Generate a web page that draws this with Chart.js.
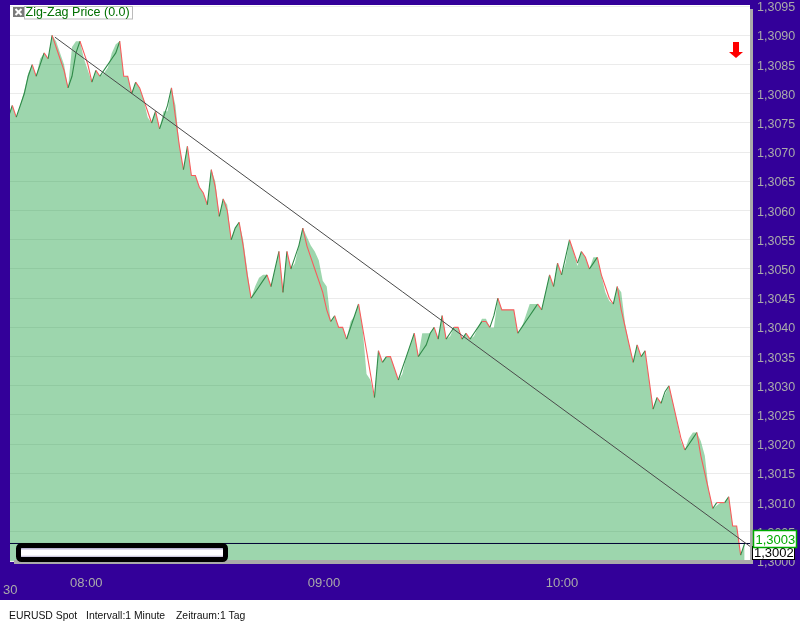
<!DOCTYPE html>
<html><head><meta charset="utf-8">
<style>html,body{margin:0;padding:0;background:#fff;overflow:hidden}canvas{display:block}</style>
<script src="https://cdn.jsdelivr.net/npm/chart.js@4"></script></head>
<body><canvas id="c" width="800" height="625"></canvas>
<script>
const linePrices=[1.3076,1.3078,1.3076,1.3078,1.3080,1.3083,1.3085,1.3083,1.3085,1.3087,1.3086,1.3090,1.3088,1.3086,1.3084,1.3081,1.3083,1.3087,1.3089,1.3087,1.3085,1.3082,1.3084,1.3083,1.3084,1.3085,1.3086,1.3087,1.3089,1.3083,1.3083,1.3080,1.3082,1.3081,1.3079,1.3077,1.3075,1.3077,1.3074,1.3076,1.3078,1.3081,1.3076,1.3071,1.3067,1.3071,1.3066,1.3066,1.3064,1.3063,1.3061,1.3067,1.3064,1.3059,1.3062,1.3060,1.3055,1.3057,1.3058,1.3054,1.3049,1.3045,1.3046,1.3047,1.3048,1.3049,1.3047,1.3050,1.3053,1.3046,1.3053,1.3050,1.3052,1.3054,1.3057,1.3054,1.3052,1.3050,1.3048,1.3046,1.3043,1.3041,1.3042,1.3040,1.3040,1.3038,1.3040,1.3042,1.3044,1.3040,1.3036,1.3032,1.3028,1.3036,1.3034,1.3035,1.3035,1.3033,1.3031,1.3033,1.3035,1.3037,1.3039,1.3035,1.3036,1.3037,1.3039,1.3040,1.3038,1.3042,1.3038,1.3039,1.3040,1.3040,1.3038,1.3039,1.3038,1.3039,1.3040,1.3041,1.3041,1.3040,1.3042,1.3045,1.3043,1.3043,1.3043,1.3043,1.3039,1.3040,1.3041,1.3042,1.3043,1.3044,1.3043,1.3046,1.3049,1.3047,1.3051,1.3049,1.3052,1.3055,1.3053,1.3051,1.3053,1.3052,1.3050,1.3051,1.3052,1.3049,1.3047,1.3045,1.3044,1.3047,1.3043,1.3040,1.3037,1.3034,1.3037,1.3035,1.3036,1.3031,1.3026,1.3028,1.3027,1.3029,1.3030,1.3027,1.3024,1.3021,1.3019,1.3020,1.3021,1.3022,1.3018,1.3015,1.3012,1.3009,1.3010,1.3010,1.3010,1.3011,1.3006,1.3006,1.3001,1.3003];
const areaPrices=[1.3076,1.3078,1.3076,1.3078,1.30805,1.30835,1.3085,1.3083,1.3086,1.3087,1.3086,1.3090,1.3089,1.3087,1.3085,1.3081,1.3088,1.3089,1.3089,1.3086,1.3084,1.3082,1.3084,1.3083,1.30835,1.30845,1.3087,1.30885,1.3089,1.3083,1.3083,1.3080,1.3082,1.3081,1.3079,1.3076,1.3075,1.3077,1.3074,1.3077,1.3077,1.3081,1.3078,1.3071,1.3067,1.3071,1.3066,1.3066,1.3064,1.3063,1.3061,1.3067,1.3065,1.3059,1.3062,1.3061,1.3055,1.3057,1.3058,1.3055,1.3050,1.3045,1.3047,1.30485,1.3049,1.3049,1.3047,1.3050,1.3053,1.3046,1.3053,1.3050,1.3051,1.3054,1.3057,1.30555,1.3054,1.3053,1.30515,1.3048,1.3047,1.3041,1.3042,1.3040,1.3040,1.3038,1.3041,1.3042,1.3044,1.3040,1.3032,1.3031,1.3028,1.3036,1.3034,1.3035,1.3035,1.3033,1.3031,1.3032,1.3035,1.3037,1.3039,1.3035,1.3039,1.3039,1.3039,1.3040,1.3038,1.3042,1.3038,1.30385,1.3040,1.3040,1.3038,1.3039,1.3038,1.30385,1.3040,1.30415,1.30415,1.3040,1.3040,1.3045,1.3043,1.3043,1.3043,1.3043,1.3039,1.3040,1.3042,1.3044,1.3044,1.3044,1.3043,1.3046,1.3049,1.3047,1.3051,1.3049,1.3051,1.3055,1.3053,1.30505,1.3053,1.3052,1.3050,1.3052,1.3052,1.3049,1.3046,1.30445,1.3044,1.3047,1.3046,1.30405,1.3037,1.3034,1.3037,1.3035,1.3036,1.3031,1.3026,1.3028,1.3027,1.30285,1.3030,1.3027,1.3024,1.30205,1.3019,1.3021,1.3022,1.3022,1.30205,1.3018,1.3012,1.3009,1.30095,1.3010,1.3010,1.3011,1.3006,1.3006,1.3001,1.3003];
const firstMinuteIndex=-1;
const yTickValues=[1.3000,1.3005,1.3010,1.3015,1.3020,1.3025,1.3030,1.3035,1.3040,1.3045,1.3050,1.3055,1.3060,1.3065,1.3070,1.3075,1.3080,1.3085,1.3090,1.3095];
const xTickValues=[18.6,78.3,138.1];
const xTickLabels=['08:00','09:00','10:00'];
const trendX=[10.7,185.35];
const trendY=[1.30897,1.30025];
const currentPrice=1.3003;
const crossPrice='1,3002';
const currentLabel='1,3003';

const toPts=a=>a.map((v,i)=>({x:i+firstMinuteIndex,y:v}));
const PURPLE='#330099';
const sans='"Liberation Sans",Arial,sans-serif';

function rr(c,x,y,w,h,r){c.beginPath();c.roundRect(x,y,w,h,r);}

const frame={id:'frame',
 beforeDraw(ch){const c=ch.ctx,a=ch.chartArea;c.save();
  c.fillStyle='#fff';c.fillRect(0,0,800,625);
  c.fillStyle=PURPLE;c.fillRect(0,0,800,600);
  c.fillStyle='#fff';c.fillRect(a.left,a.top,a.right-a.left,a.bottom-a.top);
  c.restore();},
 afterDraw(ch){const c=ch.ctx;c.save();
  // plot shadow
  c.fillStyle='#aaaaaa';c.fillRect(14,560,739,4);c.fillRect(750,9,3,555);
  // slider
  const g=c.createLinearGradient(0,548,0,558);
  g.addColorStop(0,'#a9a3c9');g.addColorStop(.25,'#ffffff');g.addColorStop(.7,'#ffffff');g.addColorStop(1,'#9a94bd');
  rr(c,18.5,545.5,207,14,3);c.fillStyle=g;c.fill();
  c.lineWidth=5;c.strokeStyle='#000';c.stroke();
  // legend
  c.fillStyle='#7a7a7a';c.fillRect(13,7,11,10);
  c.strokeStyle='#fff';c.lineWidth=2;c.beginPath();c.moveTo(15.5,9);c.lineTo(21.5,15);c.moveTo(21.5,9);c.lineTo(15.5,15);c.stroke();
  c.fillStyle='#fff';c.fillRect(24.5,6.5,108,12.5);
  c.strokeStyle='#bbbbbb';c.lineWidth=1;c.strokeRect(24.5,6.5,108,12.5);
  c.font='12.5px '+sans;c.fillStyle='#007000';c.textBaseline='middle';c.textAlign='left';
  c.fillText('Zig-Zag Price (0.0)',25.5,13);
  // arrow
  c.fillStyle='#ff0000';c.fillRect(733,42,6,10);
  c.beginPath();c.moveTo(729,52);c.lineTo(743,52);c.lineTo(736,58);c.closePath();c.fill();
  // price tags
  c.font='13px '+sans;
  c.fillStyle='#fff';c.fillRect(752.5,546.5,42,13);
  c.strokeStyle='#000';c.strokeRect(752.5,546.5,42,13);
  c.fillStyle='#000';c.fillText(crossPrice,754,553.5);
  c.fillStyle='#fff';c.fillRect(753.5,530.5,43,17);
  c.strokeStyle='#00aa00';c.lineWidth=1.5;c.strokeRect(753.5,530.5,43,17);
  c.fillStyle='#00aa00';c.fillText(currentLabel,755.5,540);
  // extra text
  c.font='13px '+sans;c.fillStyle='#aaaaaa';c.fillText('30',3,590.5);
  c.font='10.4px '+sans;c.fillStyle='#111';
  c.fillText('EURUSD Spot',9,616);
  c.fillText('Intervall:1 Minute',86,616);
  c.fillText('Zeitraum:1 Tag',176,616);
  c.restore();}
};

new Chart(document.getElementById('c'),{
 type:'line',
 data:{datasets:[
  {label:'trend',data:trendX.map((x,i)=>({x,y:trendY[i]})),borderColor:'#4a4a4a',borderWidth:1,pointRadius:0,order:1},
  {label:'current',data:[{x:-1,y:currentPrice},{x:186,y:currentPrice}],borderColor:'#000033',borderWidth:1,pointRadius:0,order:2},
  {label:'Zig-Zag Price',data:toPts(linePrices),borderWidth:1.1,pointRadius:0,order:3,tension:0,
   borderColor:'#ff5a5a',
   segment:{borderColor:s=>s.p1.parsed.y>s.p0.parsed.y?'#2f8a48':'#f75c5c'}},
  {label:'area',data:toPts(areaPrices),borderWidth:0,pointRadius:0,order:4,tension:0,fill:'start',backgroundColor:'rgba(10,152,50,0.4)'}
 ]},
 options:{responsive:false,animation:false,devicePixelRatio:1,
  layout:{padding:{left:10,top:5,right:0,bottom:0}},
  plugins:{legend:{display:false},tooltip:{enabled:false},title:{display:false}},
  scales:{
   x:{type:'linear',min:-0.578,max:185.35,
    afterBuildTicks(s){s.ticks=xTickValues.map(v=>({value:v}));},
    afterFit(s){s.height=64;s.paddingLeft=0;s.paddingRight=0;},
    grid:{display:false},border:{display:false},
    ticks:{autoSkip:false,maxRotation:0,padding:7,color:'#aaaaaa',font:{family:sans,size:13},
     callback:(v,i)=>xTickLabels[i]}},
   y:{type:'linear',position:'right',min:1.3000,max:1.30952,
    afterBuildTicks(s){s.ticks=yTickValues.map(v=>({value:v}));},
    afterFit(s){s.width=50;s.paddingTop=0;s.paddingBottom=0;},
    grid:{color:'#ebebeb',lineWidth:1,drawTicks:false},border:{display:false},
    ticks:{padding:7,labelOffset:1.5,color:'#aaaaaa',font:{family:sans,size:12.5},
     callback:v=>v.toFixed(4).replace('.',',')}}
  }},
 plugins:[frame]
});
</script></body></html>
